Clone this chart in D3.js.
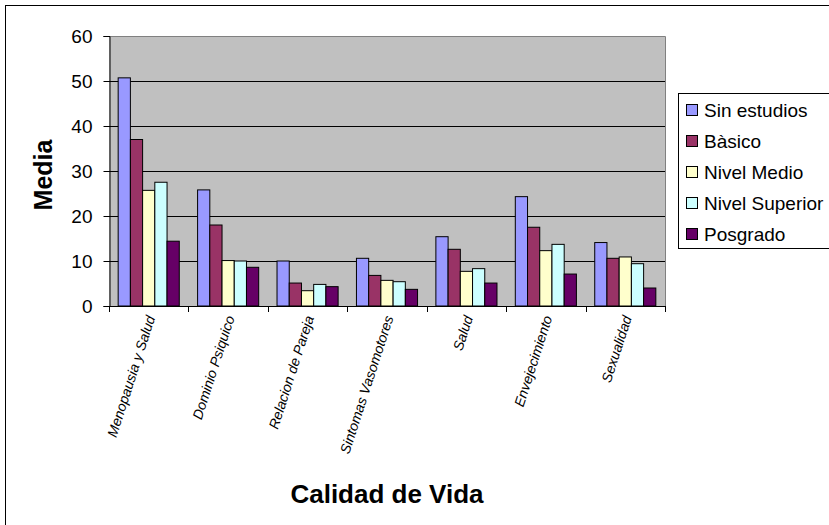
<!DOCTYPE html>
<html>
<head>
<meta charset="utf-8">
<script src="https://cdn.jsdelivr.net/npm/d3@7"></script>
<style>
  body { margin: 0; background: #fff; }
  svg { font-family: "Liberation Sans", Arial, sans-serif; }
</style>
</head>
<body>
<script>
const categories = ['Menopausia y Salud', 'Dominio Psiquico', 'Relacion de Pareja',
  'Sintomas Vasomotores', 'Salud', 'Envejecimiento', 'Sexualidad']
const seriesNames = ['Sin estudios', 'Bàsico', 'Nivel Medio', 'Nivel Superior', 'Posgrado']
const sinEstudios = [50.7, 25.8, 10.0, 10.6, 15.4, 24.3, 14.1]
const basico = [37.0, 18.0, 5.1, 6.8, 12.6, 17.5, 10.6]
const nivelMedio = [25.7, 10.1, 3.4, 5.7, 7.7, 12.3, 10.9]
const nivelSuperior = [27.5, 10.0, 4.8, 5.4, 8.3, 13.7, 9.4]
const posgrado = [14.4, 8.6, 4.3, 3.7, 5.1, 7.1, 4.0]
const yTicks = [0, 10, 20, 30, 40, 50, 60]

const seriesValues = [sinEstudios, basico, nivelMedio, nivelSuperior, posgrado]
const colors = ['#9999FF', '#993366', '#FFFFCC', '#CCFFFF', '#660066']

const width = 829
const height = 525
const plot = { left: 109, right: 665, top: 36, bottom: 306 }

const svg = d3.select('body').append('svg')
  .attr('width', width)
  .attr('height', height)

// outer chart border
svg.append('rect')
  .attr('x', 5.5).attr('y', 5.5)
  .attr('width', 900).attr('height', 600)
  .attr('fill', 'none')
  .attr('stroke', '#000')

const x = d3.scaleBand()
  .domain(categories)
  .range([plot.left, plot.right])

const xInner = d3.scaleBand()
  .domain(seriesNames)
  .range([0, x.bandwidth()])
  .paddingOuter(0.75)

const y = d3.scaleLinear()
  .domain([0, 60])
  .range([plot.bottom, plot.top])

// plot background
svg.append('rect')
  .attr('x', plot.left).attr('y', plot.top)
  .attr('width', plot.right - plot.left)
  .attr('height', plot.bottom - plot.top)
  .attr('fill', '#C0C0C0')

// grid lines
svg.append('g')
  .selectAll('line')
  .data(yTicks.filter(t => t > 0 && t < 60))
  .enter()
  .append('line')
  .attr('x1', plot.left).attr('x2', plot.right)
  .attr('y1', d => Math.round(y(d)) + 0.5)
  .attr('y2', d => Math.round(y(d)) + 0.5)
  .attr('stroke', '#000')

// top / right border
svg.append('path')
  .attr('d', `M${plot.left},${plot.top + 0.5}H${plot.right + 0.5}V${plot.bottom}`)
  .attr('fill', 'none')
  .attr('stroke', '#808080')

// bars
const groups = svg.append('g')
  .selectAll('g')
  .data(seriesValues)
  .enter()
  .append('g')
  .attr('fill', (d, i) => colors[i])

groups.selectAll('rect')
  .data((d, i) => d.map((v, j) => ({ s: seriesNames[i], c: categories[j], v })))
  .enter()
  .append('rect')
  .attr('x', d => x(d.c) + xInner(d.s))
  .attr('y', d => y(d.v))
  .attr('width', xInner.bandwidth())
  .attr('height', d => plot.bottom - y(d.v))
  .attr('stroke', '#000')
  .attr('stroke-width', 1)

// y axis
const yAxis = d3.axisLeft(y)
  .tickValues(yTicks)
  .tickSize(6)
  .tickPadding(11)
  .tickFormat(d3.format('d'))

const gy = svg.append('g')
  .attr('transform', `translate(${plot.left + 0.5}, 0)`)
  .call(yAxis)
gy.select('.domain').attr('stroke', '#000')
gy.selectAll('text')
  .attr('font-size', 19)
  .attr('font-family', '"Liberation Sans", Arial, sans-serif')
  .attr('fill', '#000')

// x axis
const gx = svg.append('g')
gx.append('line')
  .attr('x1', plot.left).attr('x2', plot.right + 1)
  .attr('y1', plot.bottom + 0.5).attr('y2', plot.bottom + 0.5)
  .attr('stroke', '#000')
gx.selectAll('line.tick')
  .data(categories.map(c => x(c)).concat([plot.right]))
  .enter()
  .append('line')
  .attr('class', 'tick')
  .attr('x1', d => Math.round(d) + 0.5).attr('x2', d => Math.round(d) + 0.5)
  .attr('y1', plot.bottom).attr('y2', plot.bottom + 6)
  .attr('stroke', '#000')

gx.selectAll('text')
  .data(categories)
  .enter()
  .append('text')
  .attr('transform', d => `translate(${x(d) + x.bandwidth() / 2 + 2}, ${plot.bottom + 10}) rotate(-72)`)
  .attr('text-anchor', 'end')
  .attr('dy', '0.35em')
  .attr('font-size', 14)
  .attr('font-style', 'italic')
  .text(d => d)

// axis titles
svg.append('text')
  .attr('transform', `translate(52, ${(plot.top + plot.bottom) / 2 + 4}) rotate(-90)`)
  .attr('text-anchor', 'middle')
  .attr('font-size', 25)
  .attr('font-weight', 'bold')
  .text('Media')

svg.append('text')
  .attr('x', 387)
  .attr('y', 503)
  .attr('text-anchor', 'middle')
  .attr('font-size', 26)
  .attr('font-weight', 'bold')
  .text('Calidad de Vida')

// legend
const legend = svg.append('g')
legend.append('rect')
  .attr('x', 678.5).attr('y', 93.5)
  .attr('width', 300).attr('height', 155)
  .attr('fill', '#fff')
  .attr('stroke', '#000')

const items = legend.selectAll('g.item')
  .data(seriesNames)
  .enter()
  .append('g')
  .attr('class', 'item')
  .attr('transform', (d, i) => `translate(686, ${110 + i * 31})`)

items.append('rect')
  .attr('x', 0.5).attr('y', -5.5)
  .attr('width', 11).attr('height', 11)
  .attr('fill', (d, i) => colors[i])
  .attr('stroke', '#000')

items.append('text')
  .attr('x', 18)
  .attr('dy', '0.36em')
  .attr('font-size', 19)
  .text(d => d)
</script>
</body>
</html>
